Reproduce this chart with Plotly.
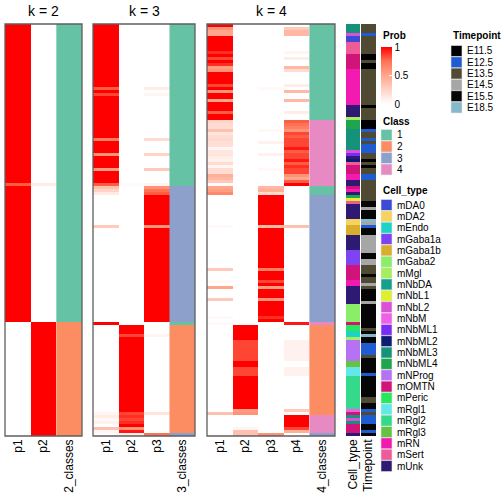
import numpy as np
import plotly.graph_objects as go

W = H = 504
N = 137  # samples (rows)

def rle(pairs):
    out = []
    for n, v in pairs:
        out += [v] * n
    assert len(out) == N, len(out)
    return out

# ---------------- data (run-length encoded per column, top row first) ----------------
k2_p1 = [(53, 1.0), (1, 0.8), (45, 1.0), (38, 0.0)]
k2_p2 = [(53, 0.0), (1, 0.1), (45, 0.0), (38, 1.0)]
k2_class = [(99, 1), (38, 2)]

k3_p1 = [(21, 1), (1, .8), (1, 1), (1, .85), (14, 1), (1, .7), (4, 1), (1, .6), (4, 1), (1, .55), (4, 1),
         (1, .8), (1, .35), (1, .25), (1, .12), (10, 0), (1, .3), (31, 0), (1, 1), (29, 0),
         (1, .05), (1, .1), (1, .03), (1, .08), (1, 0), (1, .35), (1, .05), (1, .02)]
k3_p2 = [(53, 0), (1, .02), (46, 0), (3, 1), (1, .85), (25, 1), (1, .85), (1, .9), (1, .85), (1, .9),
         (1, 1), (1, .6), (1, .95), (1, .1)]
k3_p3 = [(21, 0), (1, .1), (1, 0), (1, .05), (14, 0), (1, .2), (4, 0), (1, .25), (4, 0), (1, .3), (4, 0),
         (1, .05), (1, .6), (1, .75), (1, .8), (10, 1), (1, .6), (31, 1), (1, 0), (3, 0), (1, .05), (25, 0),
         (1, .15), (6, 0), (1, .75)]
k3_class = [(54, 1), (45, 3), (1, 1), (36, 2), (1, 3)]

k4_p1 = [(1, 1), (1, .6), (2, .5), (5, 1), (1, .9), (1, 1), (1, .85), (1, 1), (1, .9), (1, .55), (1, .6),
         (4, 1), (1, .85), (1, 1), (1, .6), (2, 1), (1, .5), (3, 1), (1, .8), (2, 1),
         (1, .25), (2, .2), (1, .35), (1, .15), (1, .2), (1, .22), (2, .18), (1, .05), (2, .15), (1, .1),
         (1, .08), (1, .2), (1, .05), (2, .2), (1, .45), (1, .4), (1, .3), (1, .02),
         (1, .5), (1, .55), (1, .65),
         (10, 0), (1, .03), (13, 0), (1, .3), (3, 0), (1, .03), (1, 0), (1, .5), (3, 0), (1, .3), (5, 0),
         (1, .03), (1, 0),
         (1, .03), (29, 0), (1, .35), (6, 0), (1, .02)]
k4_p2 = [(100, 0), (5, 1), (7, .85), (2, 1), (3, .85), (11, 1), (1, .55), (1, .6), (4, 0), (1, .05),
         (1, .35), (1, .35)]
k4_p3 = [(21, 0), (1, .03), (13, 0), (1, .04), (3, 0), (1, .08), (3, 0), (1, .08), (4, 0), (1, .04), (5, 0),
         (1, .4), (1, .45), (1, .2), (10, 1), (1, .4), (13, 1), (1, .7), (3, 1), (1, .85), (1, 1), (1, .55),
         (3, 1), (1, .6), (5, 1), (1, .9), (1, 1), (37, 0), (1, .6)]
k4_p4 = [(1, 0), (1, .3), (2, .4), (5, 0), (1, .05), (1, 0), (1, .1), (2, 0), (1, .4), (1, .2), (4, 0),
         (1, .1), (1, 0), (1, .4), (2, 0), (1, .4), (3, 0), (1, .1), (2, 0),
         (1, .8), (1, .75), (1, .7), (1, .6), (1, .85), (1, .8), (3, .85), (1, .95), (1, .8), (2, .85),
         (1, .95), (1, .8), (1, .9), (2, .85), (1, .6), (1, .5), (1, .8), (1, 1.0),
         (3, 0), (10, 0), (1, .35), (31, 0), (1, .95), (5, 0), (7, .08), (2, 0), (3, .08), (11, 0),
         (1, .3), (1, 0), (4, 1), (1, .85), (1, .45), (1, 0)]
k4_class = [(32, 1), (22, 4), (3, 1), (42, 3), (1, 4), (30, 2), (6, 4), (1, 3)]

cell_types = ["mDA0", "mDA2", "mEndo", "mGaba1a", "mGaba1b", "mGaba2", "mMgl", "mNbDA", "mNbL1",
              "mNbL2", "mNbM", "mNbML1", "mNbML2", "mNbML3", "mNbML4", "mNProg", "mOMTN", "mPeric",
              "mRgl1", "mRgl2", "mRgl3", "mRN", "mSert", "mUnk"]
cell_colors = ["#3B4BD6", "#F6D25E", "#1DD3C6", "#7E44F2", "#D8AE2C", "#8AEE68", "#A5EE5E", "#13A08C",
               "#DDF02B", "#DA50D6", "#EF60E6", "#7A2CF6", "#0E1A74", "#14937A", "#1FA54E", "#B572F2",
               "#D0147A", "#27E85A", "#62E8E8", "#34D98C", "#64C442", "#F21AB0", "#EE5C98", "#2E1A72"]
cell_runs = [(3, "mNbML3"), (1, "mNbL2"), (2, "mDA0"), (4, "mSert"), (5, "mOMTN"), (12, "mRN"), (4, "mUnk"),
             (1, "mMgl"), (3, "mNbML4"), (7, "mNbML3"), (1, "mNbL2"), (1, "mNbML1"), (1, "mUnk"),
             (1, "mNbML2"), (1, "mSert"), (3, "mOMTN"), (2, "mRN"), (2, "mUnk"), (1, "mOMTN"), (1, "mRN"),
             (1, "mUnk"), (1, "mNbML4"), (1, "mNbL1"), (1, "mSert"), (5, "mUnk"), (2, "mDA2"),
             (3, "mGaba1b"), (5, "mUnk"), (5, "mGaba1a"), (5, "mOMTN"), (2, "mRN"), (6, "mUnk"),
             (6, "mGaba2"), (1, "mOMTN"), (2, "mPeric"), (2, "mEndo"), (1, "mMgl"), (7, "mNProg"),
             (2, "mRgl3"), (3, "mRgl1"), (11, "mRgl2"), (1, "mNbM"), (1, "mOMTN"), (1, "mNbML3"),
             (1, "mNbL2"), (1, "mNbML3"), (3, "mOMTN"), (1, "mUnk")]

timepoints = ["E11.5", "E12.5", "E13.5", "E14.5", "E15.5", "E18.5"]
time_colors = ["#000000", "#1F5BD1", "#504A33", "#A6A6A6", "#060606", "#85B8C8"]
time_runs = [(3, "E13.5"), (1, "E12.5"), (6, "E13.5"), (2, "E11.5"), (1, "E13.5"), (2, "E11.5"),
             (12, "E13.5"), (1, "E11.5"), (4, "E13.5"), (3, "E11.5"), (1, "E12.5"), (2, "E13.5"),
             (1, "E12.5"), (1, "E13.5"), (3, "E12.5"), (2, "E13.5"), (1, "E11.5"), (1, "E13.5"),
             (1, "E11.5"), (2, "E13.5"), (2, "E12.5"), (7, "E13.5"), (2, "E15.5"), (1, "E14.5"),
             (3, "E15.5"), (1, "E18.5"), (1, "E14.5"), (1, "E12.5"), (2, "E15.5"), (6, "E14.5"),
             (2, "E15.5"), (2, "E14.5"), (3, "E13.5"), (1, "E15.5"), (2, "E13.5"), (1, "E14.5"),
             (1, "E13.5"), (4, "E15.5"), (1, "E14.5"), (8, "E15.5"), (1, "E13.5"), (1, "E15.5"),
             (1, "E18.5"), (2, "E15.5"), (4, "E12.5"), (1, "E13.5"), (5, "E15.5"), (1, "E12.5"),
             (7, "E15.5"), (2, "E13.5"), (2, "E15.5"), (1, "E12.5"), (1, "E13.5"), (3, "E12.5"),
             (2, "E15.5"), (1, "E12.5"), (1, "E15.5")]

class_levels = ["1", "2", "3", "4"]
class_colors = ["#66C2A5", "#FC8D62", "#8DA0CB", "#E78AC3"]

# ---------------- helpers ----------------
prob_scale = [[0.0, "#FFFFFF"], [0.25, "#FFD3C6"], [0.5, "#FFA68D"], [0.75, "#FF7355"], [1.0, "#FF0000"]]

def discrete(colors):
    n = len(colors)
    cs = []
    for i, c in enumerate(colors):
        cs.append([i / n, c])
        cs.append([(i + 1) / n, c])
    return cs

def px_x(a, b):
    return [a / W, b / W]

Y_TOP, Y_BOT = 24, 436
ydom = [1 - Y_BOT / H, 1 - Y_TOP / H]
FONT = "Liberation Sans, Arial, sans-serif"

fig = go.Figure()

panels = [
    dict(k=2, cols=[k2_p1, k2_p2], cls=k2_class, dom=(5, 82)),
    dict(k=3, cols=[k3_p1, k3_p2, k3_p3], cls=k3_class, dom=(93, 195)),
    dict(k=4, cols=[k4_p1, k4_p2, k4_p3, k4_p4], cls=k4_class, dom=(207, 335)),
]

layout_axes = {}
shapes = []
for i, p in enumerate(panels):
    ax = "" if i == 0 else str(i + 1)
    k = p["k"]
    names = [f"p{j+1}" for j in range(k)]
    cname = f"{k}_classes"
    z = np.array([rle(c) for c in p["cols"]]).T
    show = (i == 0)
    fig.add_trace(go.Heatmap(
        x0=0, dx=1, y0=0, dy=1, z=z, colorscale=prob_scale, zmin=0, zmax=1,
        xaxis="x" + ax, yaxis="y" + ax, hoverinfo="skip", showscale=show,
        colorbar=dict(x=381 / W, xanchor="left", xpad=0, y=1 - 47 / H, yanchor="top", ypad=0,
                      len=57 / H, lenmode="fraction", thickness=11, outlinewidth=0,
                      tickvals=[0, 0.5, 1], ticktext=["0", "0.5", "1"], ticks="inside",
                      ticklen=3, tickcolor="white", tickfont=dict(size=10, family=FONT, color="black")),
    ))
    cz = [[int(v) - 1] for v in rle(p["cls"])]
    fig.add_trace(go.Heatmap(
        x0=k, dx=1, y0=0, dy=1, z=cz, colorscale=discrete(class_colors), zmin=-0.5, zmax=3.5,
        xaxis="x" + ax, yaxis="y" + ax, hoverinfo="skip", showscale=False,
    ))
    layout_axes["xaxis" + ax] = dict(domain=px_x(*p["dom"]), anchor="y" + ax, range=[-0.5, k + 0.5],
                                     tickvals=list(range(k + 1)), ticktext=names + [cname],
                                     tickangle=-90, ticks="", showgrid=False, zeroline=False,
                                     showline=False, tickfont=dict(size=12, family=FONT, color="black"))
    layout_axes["yaxis" + ax] = dict(domain=ydom, anchor="x" + ax, range=[N - 0.5, -0.5],
                                     showticklabels=False, ticks="", showgrid=False, zeroline=False,
                                     showline=False)
    shapes.append(dict(type="rect", xref=f"x{ax} domain", yref=f"y{ax} domain", x0=0, x1=1, y0=0, y1=1,
                       line=dict(color="#5f5f5f", width=1.3), fillcolor="rgba(0,0,0,0)", layer="above"))

# annotation columns
cell_idx = [[cell_types.index(v)] for v in rle(cell_runs)]
time_idx = [[timepoints.index(v)] for v in rle(time_runs)]
annos = [("4", "Cell_type", cell_idx, cell_colors, (346, 360)),
         ("5", "Timepoint", time_idx, time_colors, (361, 376))]
for ax, name, zz, cols, dom in annos:
    fig.add_trace(go.Heatmap(
        x0=0, dx=1, y0=0, dy=1, z=zz, colorscale=discrete(cols), zmin=-0.5, zmax=len(cols) - 0.5,
        xaxis="x" + ax, yaxis="y" + ax, hoverinfo="skip", showscale=False))
    layout_axes["xaxis" + ax] = dict(domain=px_x(*dom), anchor="y" + ax, range=[-0.5, 0.5],
                                     tickvals=[0], ticktext=[name],
                                     tickangle=-90, ticks="", showgrid=False, zeroline=False,
                                     showline=False, tickfont=dict(size=12, family=FONT, color="black"))
    layout_axes["yaxis" + ax] = dict(domain=ydom, anchor="x" + ax, range=[N - 0.5, -0.5],
                                     showticklabels=False, ticks="", showgrid=False, zeroline=False)

annotations = []
# panel titles
for p in panels:
    cx = (p["dom"][0] + p["dom"][1]) / 2 / W
    annotations.append(dict(x=cx, y=1 - 11 / H, xref="paper", yref="paper", text=f"k = {p['k']}",
                            showarrow=False, xanchor="center", yanchor="middle",
                            font=dict(size=14, family=FONT, color="black")))

def legend_title(text, x, y):
    annotations.append(dict(x=x / W, y=1 - y / H, xref="paper", yref="paper", text=f"<b>{text}</b>",
                            showarrow=False, xanchor="left", yanchor="middle",
                            font=dict(size=10, family=FONT, color="black")))

def legend_items(labels, colors, x, y0, step):
    for j, (lab, col) in enumerate(zip(labels, colors)):
        yc = y0 + j * step
        shapes.append(dict(type="rect", xref="paper", yref="paper", x0=x / W, x1=(x + 11) / W,
                           y0=1 - (yc - 5.5) / H, y1=1 - (yc + 5.5) / H, fillcolor=col,
                           line=dict(color="#e8e8e8", width=0.6)))
        annotations.append(dict(x=(x + 14) / W, y=1 - yc / H, xref="paper", yref="paper", text=lab,
                                showarrow=False, xanchor="left", yanchor="middle",
                                font=dict(size=10, family=FONT, color="black")))

legend_title("Prob", 381, 36)
legend_title("Class", 381, 121)
legend_items(class_levels, class_colors, 381, 135, 11.5)
legend_title("Cell_type", 381, 190)
legend_items(cell_types, cell_colors, 381, 205, 11.35)
legend_title("Timepoint", 451, 36)
legend_items(timepoints, time_colors, 451, 51, 11.3)

fig.update_layout(width=W, height=H, margin=dict(l=0, r=0, t=0, b=0), autosize=False,
                  plot_bgcolor="white", paper_bgcolor="white", showlegend=False,
                  annotations=annotations, shapes=shapes, **layout_axes)

fig.write_html("out.html", config={"displayModeBar": False, "staticPlot": True},
               post_script="document.body.style.margin='0';document.body.style.padding='0';")
